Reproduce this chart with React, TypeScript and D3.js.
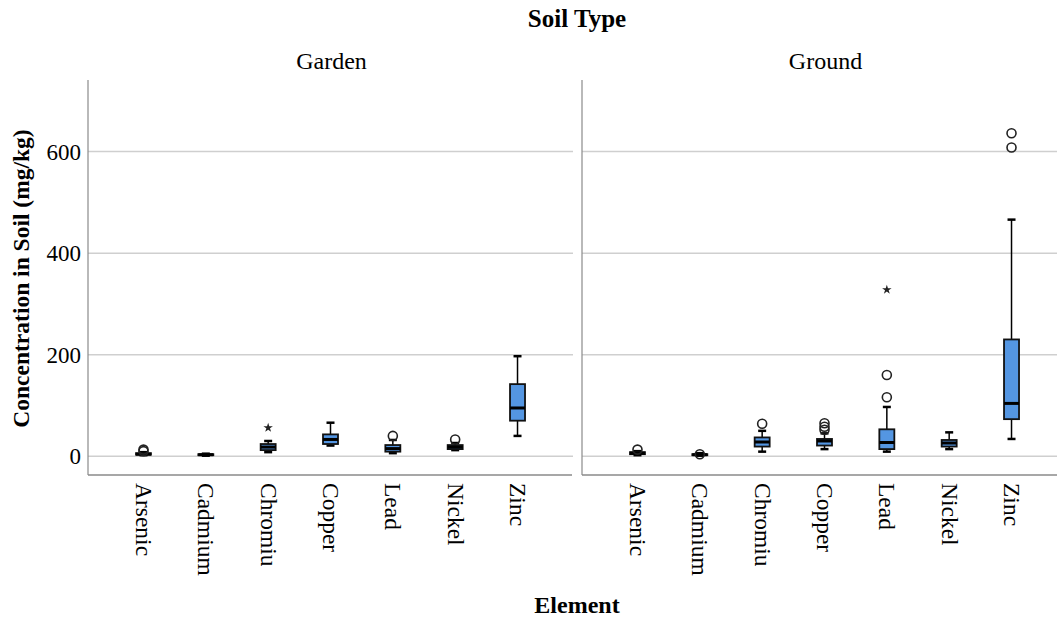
import React, { useRef, useEffect } from 'react';
import * as d3 from 'd3';

// categories
const elements = ['Arsenic', 'Cadmium', 'Chromiu', 'Copper', 'Lead', 'Nickel', 'Zinc'];
const soilTypes = ['Garden', 'Ground'];
const yTicks = [0, 200, 400, 600];

// [min whisker, q1, median, q3, max whisker] per element
const gardenStats = [
  [2, 3, 4, 6, 8],
  [1, 2, 3, 4, 5],
  [8, 12, 18, 24, 30],
  [21, 24, 33, 43, 66],
  [6, 9, 15, 22, 32],
  [12, 14, 18, 22, 26],
  [40, 70, 95, 142, 197],
];
const groundStats = [
  [2, 4, 6, 8, 10],
  [1, 2, 3, 4, 6],
  [9, 19, 28, 37, 50],
  [14, 21, 30, 34, 45],
  [9, 14, 27, 53, 97],
  [14, 19, 26, 32, 47],
  [34, 73, 104, 230, 466],
];

// outliers (circles) and extremes (stars) per element
const gardenOutliers = [[10, 13], [], [], [], [40], [33], []];
const gardenExtremes = [[], [], [56], [], [], [], []];
const groundOutliers = [[13], [4], [64], [52, 58, 65], [116, 160], [], [608, 636]];
const groundExtremes = [[], [], [], [], [328], [], []];

function BoxChart() {
  const chartRef = useRef(null);
  const width = 1057;
  const height = 618;
  const top = 80;
  const bottom = 475;
  const panels = [
    { left: 88, right: 573, stats: gardenStats, outliers: gardenOutliers, extremes: gardenExtremes },
    { left: 582, right: 1067, stats: groundStats, outliers: groundOutliers, extremes: groundExtremes },
  ];
  const font = '"Liberation Serif", "Times New Roman", serif';

  useEffect(() => {
    const svg = d3.select(chartRef.current);
    svg.selectAll('*').remove();

    const y = d3.scaleLinear().domain([-37, 741]).range([bottom, top]);
    const boxW = 15;
    const capW = 8;

    svg.append('text')
      .attr('x', 577).attr('y', 27)
      .attr('text-anchor', 'middle')
      .attr('font-family', font).attr('font-size', 25).attr('font-weight', 'bold')
      .text('Soil Type');

    svg.append('text')
      .attr('x', 577).attr('y', 613)
      .attr('text-anchor', 'middle')
      .attr('font-family', font).attr('font-size', 24).attr('font-weight', 'bold')
      .text('Element');

    svg.append('text')
      .attr('transform', `translate(29, ${(top + bottom) / 2 + 1}) rotate(-90)`)
      .attr('text-anchor', 'middle')
      .attr('font-family', font).attr('font-size', 23.5).attr('font-weight', 'bold')
      .text('Concentration in Soil (mg/kg)');

    // y tick labels
    svg.append('g')
      .selectAll('text')
      .data(yTicks)
      .join('text')
      .attr('x', 81)
      .attr('y', (d) => y(d))
      .attr('dy', '0.35em')
      .attr('text-anchor', 'end')
      .attr('font-family', font).attr('font-size', 23)
      .text((d) => d);

    panels.forEach((p, pi) => {
      const x = d3.scalePoint().domain(elements).range([p.left, p.right]).padding(0.89);
      const g = svg.append('g');

      g.append('text')
        .attr('x', (p.left + p.right) / 2 + 1).attr('y', 69)
        .attr('text-anchor', 'middle')
        .attr('font-family', font).attr('font-size', 24)
        .text(soilTypes[pi]);

      // gridlines
      g.selectAll('.grid')
        .data(yTicks)
        .join('line')
        .attr('x1', p.left).attr('x2', p.right)
        .attr('y1', (d) => y(d)).attr('y2', (d) => y(d))
        .attr('stroke', '#cfcfcf').attr('stroke-width', 1.5);

      // axes
      g.append('line')
        .attr('x1', p.left).attr('x2', p.left).attr('y1', top).attr('y2', bottom)
        .attr('stroke', '#8a8a8a').attr('stroke-width', 1.2);
      g.append('line')
        .attr('x1', p.left).attr('x2', p.right - 1).attr('y1', bottom).attr('y2', bottom)
        .attr('stroke', '#8a8a8a').attr('stroke-width', 1.5);

      // x tick labels
      g.selectAll('.xl')
        .data(elements)
        .join('text')
        .attr('transform', (d) => `translate(${x(d)}, 483) rotate(90)`)
        .attr('dy', '0.32em')
        .attr('font-family', font).attr('font-size', 23.5)
        .text((d) => d);

      elements.forEach((el, i) => {
        const [mn, q1, med, q3, mx] = p.stats[i];
        const cx = x(el);
        const b = g.append('g');
        b.append('line')
          .attr('x1', cx).attr('x2', cx).attr('y1', y(mx)).attr('y2', y(mn))
          .attr('stroke', '#000').attr('stroke-width', 1.5);
        [mn, mx].forEach((v) => {
          b.append('line')
            .attr('x1', cx - capW / 2).attr('x2', cx + capW / 2)
            .attr('y1', y(v)).attr('y2', y(v))
            .attr('stroke', '#000').attr('stroke-width', 2.5);
        });
        b.append('rect')
          .attr('x', cx - boxW / 2).attr('width', boxW)
          .attr('y', y(q3)).attr('height', Math.max(y(q1) - y(q3), 1))
          .attr('fill', '#5496e2').attr('stroke', '#111').attr('stroke-width', 1.8);
        b.append('line')
          .attr('x1', cx - boxW / 2).attr('x2', cx + boxW / 2)
          .attr('y1', y(med)).attr('y2', y(med))
          .attr('stroke', '#000').attr('stroke-width', 3);

        b.selectAll('circle')
          .data(p.outliers[i])
          .join('circle')
          .attr('cx', cx).attr('cy', (d) => y(d)).attr('r', 4.5)
          .attr('fill', 'none').attr('stroke', '#222').attr('stroke-width', 1.6);

        b.selectAll('.star')
          .data(p.extremes[i])
          .join('path')
          .attr('transform', (d) => `translate(${cx}, ${y(d)})`)
          .attr('d', d3.symbol(d3.symbolStar, 28))
          .attr('fill', '#222');
      });
    });
  }, []);

  return (
    <svg
      ref={chartRef}
      width={width}
      height={height}
      style={{ position: 'absolute', left: 0, top: 0, background: '#fff' }}
    ></svg>
  );
}

export default function App() {
  return <BoxChart />;
}
